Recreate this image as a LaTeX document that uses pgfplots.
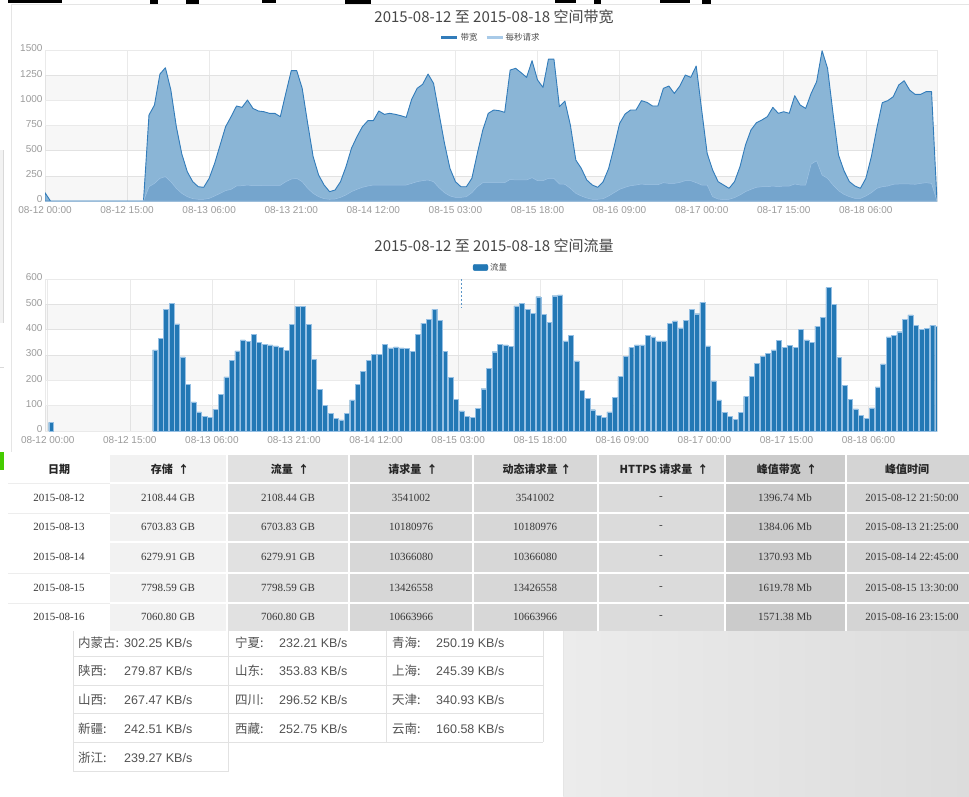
\documentclass[border=0pt]{standalone}
\usepackage{pgfplots}
\pgfplotsset{compat=1.18}
\usepackage{pgfplotstable}
\usepackage{fontspec}
\setmainfont{Liberation Sans}
\newfontfamily\cjk{Noto Sans CJK SC}
\newfontfamily\tserif{Liberation Serif}

\definecolor{areaA}{RGB}{138,181,214}
\definecolor{lineA}{RGB}{50,124,186}
\definecolor{areaB}{RGB}{117,165,205}
\definecolor{lineB}{RGB}{160,196,228}
\definecolor{legB}{RGB}{168,202,232}
\definecolor{barc}{RGB}{35,120,181}
\definecolor{barb}{RGB}{150,192,228}
\definecolor{tickc}{RGB}{155,155,155}
\definecolor{gridc}{RGB}{234,234,234}
\definecolor{titlec}{RGB}{70,70,70}
\definecolor{cA}{RGB}{255,255,255}
\definecolor{cB}{RGB}{242,242,242}
\definecolor{cC}{RGB}{225,225,225}
\definecolor{cD}{RGB}{215,215,215}
\definecolor{cE}{RGB}{215,215,215}
\definecolor{cF}{RGB}{219,219,219}
\definecolor{cG}{RGB}{203,203,203}
\definecolor{cH}{RGB}{212,212,212}
\definecolor{regline}{RGB}{226,226,226}
\definecolor{panelL}{RGB}{236,236,236}
\definecolor{panelR}{RGB}{220,220,220}

% hourly bandwidth (Mb), hours from 08-12 00:00
\pgfplotstableread{
h v
0 83
1 0
18 0
19 854
20 953
21 1261
22 1324
23 1102
24 738
25 467
26 291
27 192
28 142
29 136
30 225
31 374
32 556
33 738
34 838
35 944
36 930
37 1003
38 920
39 894
40 887
41 871
42 871
43 838
44 1069
45 1295
46 1295
47 1119
48 771
49 440
50 258
51 159
52 93
53 109
54 192
55 341
56 523
57 639
58 738
59 798
60 798
61 894
62 861
63 871
64 861
65 848
66 831
67 1010
68 1119
69 1159
70 1261
71 1169
72 871
73 573
74 324
75 192
76 142
77 142
78 225
79 473
80 705
81 871
82 904
83 897
84 881
85 1301
86 1318
87 1275
88 1228
89 1394
90 1202
91 1129
92 1410
93 1410
94 937
95 993
96 755
97 407
98 324
99 209
100 159
101 136
102 192
103 324
104 540
105 771
106 864
107 904
108 904
109 997
110 980
111 944
112 944
113 1119
114 1142
115 1069
116 1142
117 1252
118 1228
119 1341
120 904
121 473
122 308
123 192
124 159
125 126
126 192
127 341
128 556
129 705
130 778
131 805
132 838
133 930
134 871
135 887
136 871
137 1046
138 953
139 920
140 1069
141 1185
142 1493
143 1318
144 871
145 457
146 301
147 192
148 149
149 126
150 225
151 440
152 722
153 977
154 997
155 1036
156 1152
157 1195
158 1102
159 1059
160 1059
161 1086
162 1086
163 0
}\bwtable

% requests per second
\pgfplotstableread{
h v
0 0
18 0
19 142
20 175
21 225
22 242
23 192
24 126
25 76
26 43
27 23
28 17
29 17
30 26
31 50
32 76
33 103
34 116
35 149
36 152
37 159
38 152
39 152
40 156
41 156
42 156
43 156
44 192
45 218
46 225
47 192
48 126
49 76
50 43
51 23
52 17
53 20
54 36
55 60
56 93
57 116
58 136
59 149
60 159
61 159
62 159
63 159
64 159
65 159
66 159
67 175
68 192
69 202
70 209
71 192
72 132
73 83
74 50
75 36
76 36
77 43
78 83
79 142
80 182
81 182
82 182
83 182
84 182
85 215
86 209
87 209
88 209
89 232
90 202
91 202
92 225
93 225
94 169
95 166
96 126
97 76
98 50
99 30
100 17
101 17
102 23
103 50
104 83
105 116
106 136
107 152
108 159
109 169
110 162
111 162
112 162
113 182
114 175
115 175
116 185
117 202
118 202
119 182
120 159
121 159
122 43
123 20
124 13
125 17
126 33
127 60
128 93
129 116
130 136
131 142
132 142
133 149
134 142
135 149
136 149
137 169
138 159
139 159
140 367
141 400
142 258
143 225
144 159
145 103
146 66
147 43
148 26
149 26
150 50
151 83
152 126
153 142
154 149
155 166
156 169
157 169
158 169
159 166
160 175
161 182
162 175
163 0
}\reqtable

% hourly traffic (bars)
\pgfplotstableread{
h v
0 34
19 320
20 365
21 479
22 504
23 423
24 293
25 183
26 115
27 76
28 59
29 55
30 86
31 146
32 214
33 280
34 316
35 360
36 353
37 382
38 351
39 343
40 340
41 336
42 331
43 319
44 421
45 491
46 491
47 421
48 282
49 165
50 102
51 70
52 51
53 44
54 70
55 123
56 183
57 235
58 280
59 303
60 303
61 342
62 328
63 332
64 328
65 326
66 315
67 381
68 426
69 442
70 480
71 436
72 314
73 211
74 125
75 79
76 59
77 55
78 90
79 167
80 248
81 313
82 343
83 340
84 335
85 494
86 504
87 480
88 464
89 530
90 460
91 429
92 534
93 537
94 356
95 377
96 277
97 160
98 128
99 84
100 62
101 53
102 76
103 133
104 215
105 295
106 330
107 340
108 340
109 377
110 372
111 356
112 356
113 426
114 435
115 407
116 438
117 480
118 463
119 509
120 336
121 198
122 123
123 73
124 58
125 45
126 73
127 137
128 215
129 268
130 295
131 307
132 320
133 357
134 331
135 339
136 331
137 401
138 360
139 349
140 414
141 448
142 566
143 500
144 291
145 179
146 125
147 87
148 62
149 51
150 91
151 174
152 265
153 372
154 378
155 392
156 440
157 458
158 417
159 402
160 405
161 417
162 414
}\bartable

\pgfplotsset{
  webchart/.style={
    scale only axis,
    width=892pt,
    axis line style={draw=gridc},
    major tick length=0pt,
    tick style={draw=none},
    grid=major,
    grid style={draw=gridc, line width=0.6pt},
    ticklabel style={font=\fontsize{10}{12}\selectfont, text=tickc},
    /pgf/number format/assume math mode=true,
    /pgf/number format/1000 sep={},
    scaled ticks=false,
    xtick={0,15,...,150},
    xticklabels={08-12 00:00,08-12 15:00,08-13 06:00,08-13 21:00,08-14 12:00,08-15 03:00,08-15 18:00,08-16 09:00,08-17 00:00,08-17 15:00,08-18 06:00},
    xticklabel style={yshift=-2pt},
    yticklabel style={xshift=1pt, yshift=1.5pt},
  }
}

\begin{document}
\begin{tikzpicture}
\useasboundingbox (0pt,0pt) rectangle (969pt,-796pt);
\fill[white] (0pt,0pt) rectangle (969pt,-796pt);

% surrounding screen remnants
\fill[black] (8pt,0pt) rectangle (62pt,-3pt);
\fill[black] (150pt,0pt) rectangle (158pt,-4pt);
\fill[black] (186pt,0pt) rectangle (199pt,-4pt);
\fill[black] (262pt,0pt) rectangle (276pt,-3pt);
\fill[black] (345pt,0pt) rectangle (371pt,-4pt);
\fill[black] (555pt,0pt) rectangle (576pt,-3pt);
\fill[black] (594pt,0pt) rectangle (601pt,-4pt);
\fill[black] (660pt,0pt) rectangle (690pt,-3pt);
\fill[black] (702pt,0pt) rectangle (711pt,-4pt);
\draw[black!10] (11pt,-4pt) -- (969pt,-4pt);
\draw[black!10] (11pt,-4pt) -- (11pt,-452pt);
\fill[black!5] (0pt,-150pt) rectangle (3pt,-323pt);
\draw[black!15] (3pt,-150pt) -- (3pt,-323pt);
\draw[black!15] (0pt,-367pt) -- (4pt,-367pt);
\fill[green!55!lime!80!black] (0pt,-452pt) rectangle (4pt,-470pt);

% ---------- bandwidth chart ----------
\node[font=\cjk\fontsize{15}{17}\selectfont, text=titlec] at (494pt,-17pt) {2015-08-12 至 2015-08-18 空间带宽};
\begin{axis}[webchart,
  at={(45pt,-201pt)}, anchor=south west,
  height=151pt,
  xmin=0, xmax=163, ymin=0, ymax=1500,
  ytick={0,250,...,1500},
  legend style={at={(0.5,1)}, anchor=south, yshift=4pt, draw=none, fill=none,
    legend columns=-1, font=\cjk\fontsize{8.5}{10}\selectfont,
    /tikz/every even column/.append style={column sep=6pt}},
]
\fill[black, opacity=0.03] (axis cs:0,0) rectangle (axis cs:163,250);
\fill[black, opacity=0.03] (axis cs:0,500) rectangle (axis cs:163,750);
\fill[black, opacity=0.03] (axis cs:0,1000) rectangle (axis cs:163,1250);
\addlegendimage{legend image code/.code={\draw[draw=lineA, line width=2.2pt] (0pt,0pt) -- (16pt,0pt);}}
\addlegendentry{\textcolor{black!70}{带宽}}
\addlegendimage{legend image code/.code={\draw[draw=legB, line width=2.2pt] (0pt,0pt) -- (16pt,0pt);}}
\addlegendentry{\textcolor{black!70}{每秒请求}}
\addplot[forget plot, draw=lineA, line width=0.9pt, fill=areaA, line join=round] table[x=h,y=v] {\bwtable} \closedcycle;
\addplot[forget plot, draw=lineB, line width=0.5pt, fill=areaB, line join=round] table[x=h,y=v] {\reqtable} \closedcycle;
\end{axis}

% ---------- traffic chart ----------
\node[font=\cjk\fontsize{15}{17}\selectfont, text=titlec] at (494pt,-246pt) {2015-08-12 至 2015-08-18 空间流量};
\begin{axis}[webchart,
  at={(45pt,-431pt)}, anchor=south west,
  height=152pt,
  xmin=-0.5, xmax=162.5, ymin=0, ymax=600,
  ytick={0,100,...,600},
  ybar, bar width=0.9,
  legend style={at={(0.5,1)}, anchor=south, yshift=3pt, draw=none, fill=none,
    legend columns=-1, font=\cjk\fontsize{8.5}{10}\selectfont},
  legend image code/.code={\fill[barc, rounded corners=2pt] (0pt,-3.2pt) rectangle (15pt,3.2pt);},
]
\fill[black, opacity=0.03] (axis cs:-0.5,0) rectangle (axis cs:162.5,100);
\fill[black, opacity=0.03] (axis cs:-0.5,200) rectangle (axis cs:162.5,300);
\fill[black, opacity=0.03] (axis cs:-0.5,400) rectangle (axis cs:162.5,500);
\addlegendimage{fill=barc}
\addlegendentry{\textcolor{black!70}{流量}}
\addplot[forget plot, fill=barc, draw=barb, line width=0.4pt] table[x=h,y=v] {\bartable};
\draw[lineA!80, dash pattern=on 2pt off 2pt, line width=0.7pt] (axis cs:75.5,600) -- (axis cs:75.5,485);
\end{axis}

% ---------- daily table ----------
\fill[cA] (8pt,-455pt) rectangle (110pt,-631pt);
\fill[cB] (110pt,-455pt) rectangle (227pt,-631pt);
\fill[cC] (227pt,-455pt) rectangle (349pt,-631pt);
\fill[cD] (349pt,-455pt) rectangle (473pt,-631pt);
\fill[cE] (473pt,-455pt) rectangle (598pt,-631pt);
\fill[cF] (598pt,-455pt) rectangle (725pt,-631pt);
\fill[cG] (725pt,-455pt) rectangle (846pt,-631pt);
\fill[cH] (846pt,-455pt) rectangle (969pt,-631pt);
\foreach \yy in {483,513,542,573,603} {
  \draw[black!7, line width=1pt] (8pt,-\yy pt) -- (110pt,-\yy pt);
  \draw[white, line width=1.5pt] (110pt,-\yy pt) -- (969pt,-\yy pt);
}
\draw[white, line width=2pt] (8pt,-542pt) -- (969pt,-542pt);
\foreach \xx in {227,349,473,598,725,846} {
  \draw[white, line width=1.5pt] (\xx pt,-455pt) -- (\xx pt,-631pt);
}
\begin{scope}[every node/.style={font=\cjk\bfseries\fontsize{11}{13}\selectfont, text=black!85}]
\node at (59pt,-469pt) {日期};
\node at (170pt,-469pt) {存储\ \ ↑};
\node at (290pt,-469pt) {流量\ \ ↑};
\node at (413pt,-469pt) {请求量\ \ ↑};
\node at (537pt,-469pt) {动态请求量\ ↑};
\node at (664pt,-469pt) {HTTPS 请求量\ \ ↑};
\node at (787pt,-469pt) {峰值带宽\ \ ↑};
\node at (907pt,-469pt) {峰值时间};
\end{scope}
\begin{scope}[every node/.style={font=\tserif\fontsize{11}{13}\selectfont, text=black!78}]
\foreach \rowY/\rowD/\rowS/\rowR/\rowP/\rowT in {
  498/2015-08-12/2108.44/3541002/1396.74/2015-08-12 21:50:00,
  527/2015-08-13/6703.83/10180976/1384.06/2015-08-13 21:25:00,
  557/2015-08-14/6279.91/10366080/1370.93/2015-08-14 22:45:00,
  588/2015-08-15/7798.59/13426558/1619.78/2015-08-15 13:30:00,
  617/2015-08-16/7060.80/10663966/1571.38/2015-08-16 23:15:00} {
  \node at (59pt,-\rowY pt) {\rowD};
  \node at (168pt,-\rowY pt) {\rowS\ GB};
  \node at (288pt,-\rowY pt) {\rowS\ GB};
  \node at (411pt,-\rowY pt) {\rowR};
  \node at (535pt,-\rowY pt) {\rowR};
  \node at (661pt,-\rowY pt) {-};
  \node at (785pt,-\rowY pt) {\rowP\ Mb};
  \node at (912pt,-\rowY pt) {\rowT};
}
\end{scope}

% ---------- right grey panel ----------
\shade[left color=panelL, right color=panelR] (563pt,-631pt) rectangle (969pt,-796pt);
\draw[white!90!black, line width=1pt] (563pt,-631pt) -- (563pt,-796pt);

% ---------- region table ----------
\foreach \yy in {656,685,713,742} {
  \draw[regline, line width=1pt] (73pt,-\yy pt) -- (543pt,-\yy pt);
}
\draw[regline, line width=1pt] (73pt,-771pt) -- (228.5pt,-771pt);
\draw[regline, line width=1pt] (73pt,-631pt) -- (73pt,-771pt);
\draw[regline, line width=1pt] (228.5pt,-631pt) -- (228.5pt,-771pt);
\draw[regline, line width=1pt] (386pt,-631pt) -- (386pt,-742pt);
\draw[regline, line width=1pt] (543pt,-631pt) -- (543pt,-742pt);
\begin{scope}[every node/.style={anchor=west, inner sep=0pt, text=black!68}]
\foreach \rowY/\la/\va/\lb/\vb/\lc/\vc in {
  643/内蒙古:/302.25/宁夏:/232.21/青海:/250.19,
  671/陕西:/279.87/山东:/353.83/上海:/245.39,
  700/山西:/267.47/四川:/296.52/天津:/340.93,
  729/新疆:/242.51/西藏:/252.75/云南:/160.58} {
  \node[font=\cjk\fontsize{12.5}{14}\selectfont] at (78pt,-\rowY pt) {\la};
  \node[font=\fontsize{12.5}{14}\selectfont] at (124pt,-\rowY pt) {\va\ KB/s};
  \node[font=\cjk\fontsize{12.5}{14}\selectfont] at (235pt,-\rowY pt) {\lb};
  \node[font=\fontsize{12.5}{14}\selectfont] at (279pt,-\rowY pt) {\vb\ KB/s};
  \node[font=\cjk\fontsize{12.5}{14}\selectfont] at (392pt,-\rowY pt) {\lc};
  \node[font=\fontsize{12.5}{14}\selectfont] at (436pt,-\rowY pt) {\vc\ KB/s};
}
\node[font=\cjk\fontsize{12.5}{14}\selectfont] at (78pt,-758pt) {浙江:};
\node[font=\fontsize{12.5}{14}\selectfont] at (124pt,-758pt) {239.27 KB/s};
\end{scope}
\end{tikzpicture}
\end{document}
